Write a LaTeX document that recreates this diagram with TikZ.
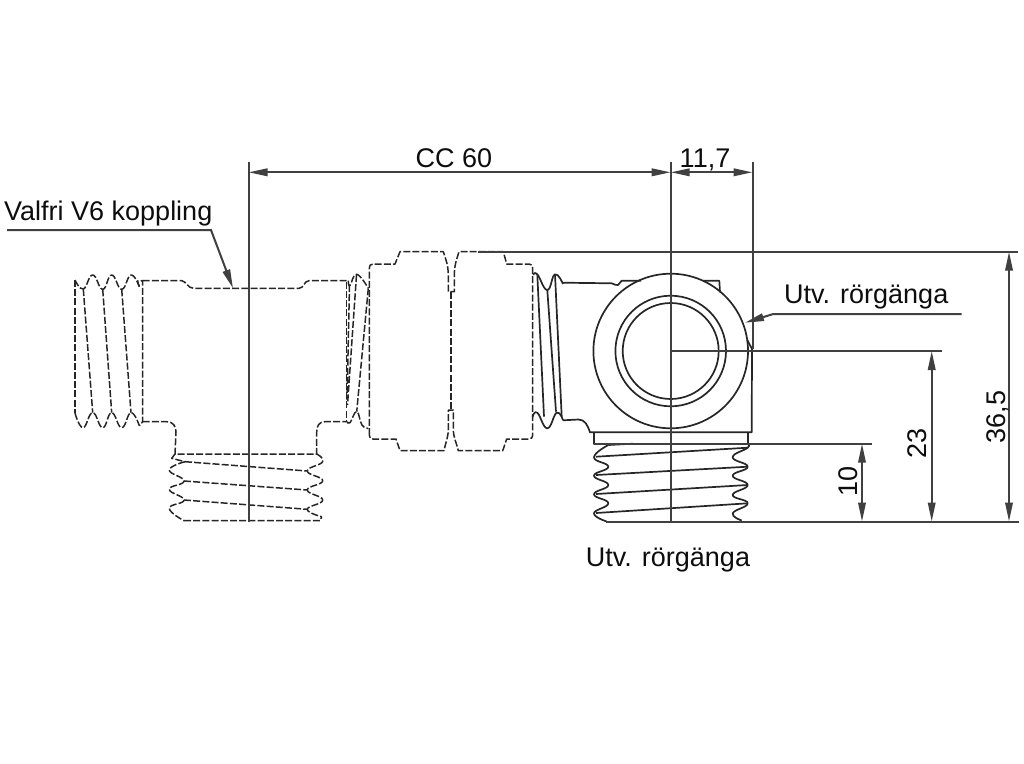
\documentclass[tikz,border=0pt]{standalone}
\usepackage{fontspec}
\setmainfont{Liberation Sans}
\usetikzlibrary{arrows.meta}
\tikzset{
  solidline/.style={line width=1.7pt,draw=black!85,line join=round},
  hid/.style={line width=1.5pt,draw=black!85,dash pattern=on 7pt off 2.2pt,line join=round},
  dimline/.style={line width=2pt,draw=black!75},
  dimarrow/.style={line width=2pt,draw=black!75,{Stealth[length=19pt,width=7.5pt,inset=0pt]}-{Stealth[length=19pt,width=7.5pt,inset=0pt]}},
  leadarrow/.style={line width=2pt,draw=black!75,-{Stealth[length=19pt,width=7.5pt,inset=0pt]}},
  lab/.style={font=\fontsize{27}{27}\selectfont,inner sep=0pt,anchor=base,text=black!95},
  wave/.style={smooth,tension=0.8}
}
\begin{document}
\begin{tikzpicture}[x=1pt,y=-1pt]
\useasboundingbox (0,0) rectangle (1024,763);
% named reference points
\coordinate (cx) at (670.7,351);
\coordinate (cT) at (670.7,162);
\coordinate (cB) at (670.7,521.5);
\coordinate (lT) at (248.5,162);
\coordinate (lB) at (248.5,521.5);
\coordinate (rT) at (752.5,162);
\coordinate (rB) at (752.5,349);
\coordinate (dL) at (248.5,172.3);
\coordinate (dC) at (670.7,172.3);
\coordinate (dR) at (752.5,172.3);
\coordinate (e1a) at (478,251.7);
\coordinate (e1b) at (1018,251.7);
\coordinate (e2b) at (942,351);
\coordinate (e3a) at (594,443.7);
\coordinate (e3b) at (872,443.7);
\coordinate (e4a) at (606,521.5);
\coordinate (e4b) at (1019,521.5);
\coordinate (a10) at (862,443.7);
\coordinate (b10) at (862,521.5);
\coordinate (a23) at (931.7,351);
\coordinate (b23) at (931.7,521.5);
\coordinate (a36) at (1009,251.7);
\coordinate (b36) at (1009,521.5);
% tee fitting (hidden)
\draw[hid] plot[wave] coordinates {(75,280) (83.3,289) (92.7,275) (102.7,289.3) (111.7,275) (121.7,289.3) (131,275) (139.3,286.7)};
\draw[hid] plot[wave] coordinates {(75,413) (83,427.7) (92.7,412.7) (102.7,427.7) (111.7,412.7) (121.7,427.7) (131,412.7) (139.3,425.7)};
\draw[hid] (75,280) -- (75,413);
\draw[hid] (83.3,289) -- (92.7,412.7) (102.7,289.3) -- (111.7,412.7) (121.7,289.3) -- (131,412.7);
\draw[hid] (139.3,286.7) -- (137.5,281) -- (142.7,280.7) -- (142.7,421.7) -- (139.3,425.7);
\draw[hid] (142.7,280.7) -- (181.7,280.7) .. controls (186,281) and (188,288.3) .. (193.3,288.3) -- (299,288.3) .. controls (304,288.3) and (304,280.7) .. (309,280.7) -- (348.3,280.7);
\draw[hid] (142.7,421.7) -- (166.7,421.7) .. controls (173,421.7) and (176,426) .. (176,432) -- (175,454) -- (316.7,454) -- (316.7,432) .. controls (316.7,426) and (319,421.7) .. (325,421.7) -- (347.3,421.7);
\draw[hid] plot[wave] coordinates {(185,461.7) (169.3,470) (184,481) (169.3,489.3) (184,500) (169.3,508.3) (184,520.7)};
\draw[hid] (175,454) -- (171.7,458.3) -- (185,461.7);
\draw[hid] plot[wave] coordinates {(316.7,454) (322.7,461.7) (307.3,471) (322.7,480.7) (307.3,490) (322.7,500) (307.3,509.3) (321.7,516.7)};
\draw[hid] (184,520.7) -- (320,520.7) -- (321.7,516.7);
\draw[hid] (185,461.7) -- (307.3,471) (184,481) -- (307.3,490) (184,500) -- (307.3,509.3);
% thread toward nut (hidden)
\draw[hid] (346.7,281.7) -- (346.7,421.7);
\draw[hid] plot[wave] coordinates {(348.3,280.7) (350,285.5) (356.7,274.3) (368.3,288.3)};
\draw[hid] plot[wave] coordinates {(347.3,421.7) (350,422.7) (356.7,411.7) (362,425) (368.3,428.3)};
\draw[hid] (356.5,275) -- (347.5,405) (349.5,285) -- (347,400) (368.3,288.3) -- (356.7,411.7);
% nut (hidden)
\draw[hid] (369.3,435) -- (369.3,268) .. controls (369.3,265.5) and (370.5,264) .. (373,264) -- (395,264) -- (400,251.7) -- (443.3,251.7) .. controls (446,260) and (448.3,265) .. (448.3,276) -- (448.3,291.7) -- (454.3,291.7) -- (454.3,276) .. controls (454.3,265) and (456.5,260) .. (459,251.7) -- (503.3,251.7) -- (506.7,264) -- (529,264) .. controls (531.5,264) and (532.7,265.5) .. (532.7,268) -- (532.7,435) .. controls (532.7,437.5) and (531.5,439) .. (529,439) -- (506.7,439) -- (502.7,450.7) -- (458.3,450.7) .. controls (456,441) and (453.3,438) .. (453.3,428) -- (453.3,410) -- (448.3,410) -- (448.3,428) .. controls (448.3,438) and (446,441) .. (444,450.7) -- (400,450.7) -- (396,439) -- (373,439) .. controls (370.5,439) and (369.3,437.5) .. (369.3,435);
\draw[hid] (451,291.7) -- (451,410);
% angle valve body (solid)
\draw[solidline] plot[wave] coordinates {(533.3,275) (537.3,274.3) (547.3,290) (555,274.3) (563,284)};
\draw[solidline] plot[wave] coordinates {(532.7,416.7) (537.3,412.7) (547.3,428.3) (556.7,412.7) (563,420.3)};
\draw[solidline] (537.3,274.3) -- (544,416.7) (547.3,290) -- (556,411.7) (555,274.3) -- (561.7,416.7);
\draw[solidline] (563,282.7) -- (611.7,283.3) .. controls (615,283.5) and (616,286.5) .. (618,285) -- (621.7,280.7) -- (641,280.7);
\draw[solidline] (703,280.7) -- (719.3,280.7) -- (720,292.3);
\draw[solidline] (563,420.3) -- (578.3,419.5) .. controls (585,419.5) and (587.5,425) .. (590,432.3) -- (751.7,432.3) -- (752,349) -- (747.3,340);
\draw[solidline] (594,432.3) -- (594,443.7) -- (747.7,443.7) -- (747.7,432.3);
\draw[solidline] (cx) circle[radius=77.3] (cx) circle[radius=55.3] (cx) circle[radius=48];
% outlet thread (solid)
\draw[solidline] plot[wave] coordinates {(608.3,445) (594,457.3) (608.3,466.7) (594,475.7) (608.3,485) (594,494.3) (608.3,503.3) (594,513.3) (606.7,521.5)};
\draw[solidline] plot[wave] coordinates {(747.7,444) (747.7,447.7) (732.7,457.3) (747.7,466.7) (732.7,475.7) (747.7,485) (732.7,495) (747.7,503.3) (732.7,513.3) (741.7,520.5)};
\draw[solidline] (596,456.7) -- (747.7,447.7) (596,475) -- (747.7,466.7) (596,494) -- (747.7,485) (596,513) -- (747.7,503.3) (608.3,445) -- (633,443.7);
% extension and centre lines
\draw[dimline] (lT) -- (lB);
\draw[dimline] (cT) -- (cB);
\draw[dimline] (rT) -- (rB);
\draw[dimline] (e1a) -- (e1b);
\draw[dimline] (cx) -- (e2b);
\draw[dimline] (e3a) -- (e3b);
\draw[dimline] (e4a) -- (e4b);
% dimensions
\draw[dimarrow] (dL) -- (dC);
\draw[dimarrow] (dC) -- (dR);
\draw[dimarrow] (a10) -- (b10);
\draw[dimarrow] (a23) -- (b23);
\draw[dimarrow] (a36) -- (b36);
% leaders
\coordinate (v0) at (7,230);
\coordinate (v1) at (211,230);
\coordinate (v2) at (233,288.3);
\draw[leadarrow] (v0) -- (v1) -- (v2);
\coordinate (u0) at (961.7,314);
\coordinate (u1) at (773.3,314);
\coordinate (u2) at (745,322.7);
\draw[leadarrow] (u0) -- (u1) -- (u2);
% labels
\node[lab] (tcc) at (454,167) {CC 60};
\node[lab] (t117) at (705,167) {11,7};
\node[lab,anchor=base west] (tv6) at (4,220.7) {Valfri V6 koppling};
\node[lab,anchor=base west] (tu1) at (784,303) {Utv. rörgänga};
\node[lab] (tu2) at (668,566) {Utv. rörgänga};
\node[lab,rotate=90] (t10) at (857,481) {10};
\node[lab,rotate=90] (t23) at (926.7,443) {23};
\node[lab,rotate=90] (t36) at (1005,417) {36,5};
\end{tikzpicture}
\end{document}
